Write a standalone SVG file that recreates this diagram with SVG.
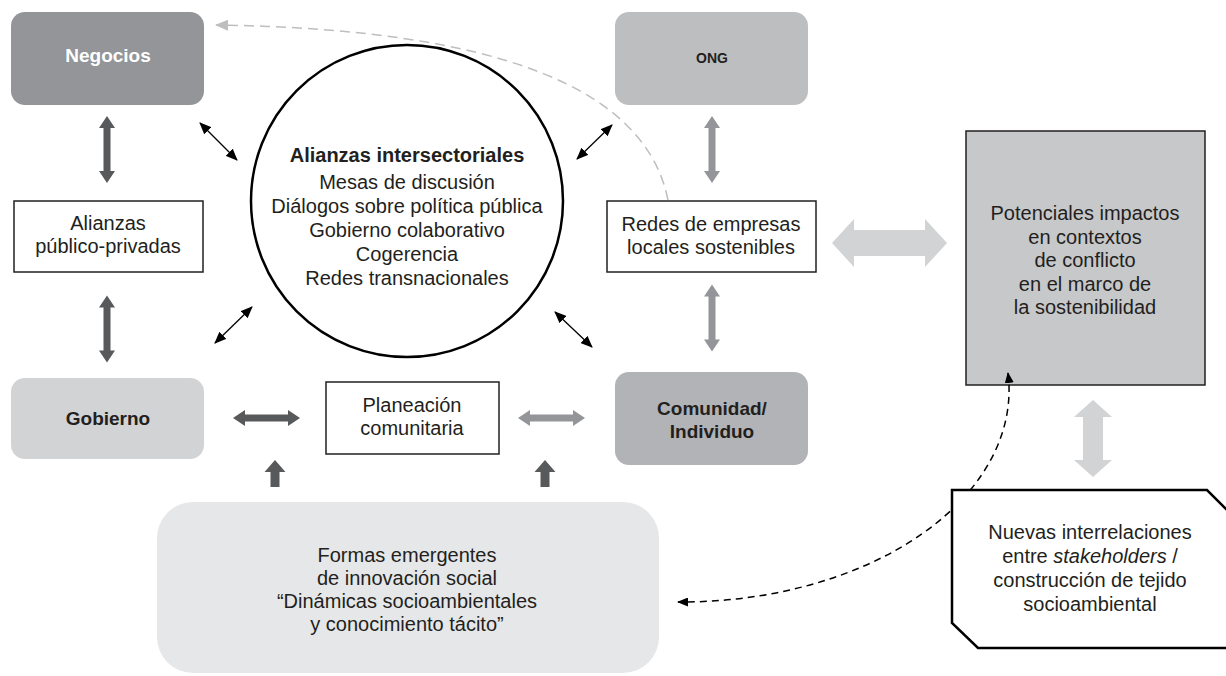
<svg xmlns="http://www.w3.org/2000/svg" width="1226" height="676" viewBox="0 0 1226 676">
<style>
text{font-family:"Liberation Sans",Arial,sans-serif;font-size:20px;fill:#231f20;text-anchor:middle}
.b{font-weight:bold;font-size:19px}
.w{fill:#ffffff}
.box{fill:#ffffff;stroke:#231f20;stroke-width:1.5}
.dk{fill:#58595b}
.md{fill:#939598}
.lt{fill:#d1d3d4}
.thin{stroke:#000;stroke-width:1.3;fill:none;marker-start:url(#ah);marker-end:url(#ah)}
</style>
<defs>
<marker id="ah" viewBox="0 0 12 10" refX="11" refY="5" markerWidth="12" markerHeight="10" markerUnits="userSpaceOnUse" orient="auto-start-reverse"><path d="M0,0 L12,5 L0,10 Z" fill="#000"/></marker>
<marker id="ahk" viewBox="0 0 11 9" refX="10" refY="4.5" markerWidth="11" markerHeight="9" markerUnits="userSpaceOnUse" orient="auto-start-reverse"><path d="M0,0 L11,4.5 L0,9 Z" fill="#000"/></marker>
<marker id="ahg" viewBox="0 0 13 11" refX="12" refY="5.5" markerWidth="13" markerHeight="11" markerUnits="userSpaceOnUse" orient="auto"><path d="M0,0 L13,5.5 L0,11 Z" fill="#bcbec0"/></marker>
<path id="dbl" d="M0,-33.5 L8,-21.5 L3.5,-21.5 L3.5,21.5 L8,21.5 L0,33.5 L-8,21.5 L-3.5,21.5 L-3.5,-21.5 L-8,-21.5 Z"/>
<path id="up" d="M0,-13.5 L10.5,-1.5 L4.5,-1.5 L4.5,13.5 L-4.5,13.5 L-4.5,-1.5 L-10.5,-1.5 Z"/>
</defs>

<g id="negocios"><rect x="11" y="12" width="193" height="93" rx="14" fill="#939598"/><text class="b w" x="108" y="62">Negocios</text></g>
<g id="ong"><rect x="615" y="12" width="193" height="93" rx="14" fill="#bcbec0"/><text class="b" style="font-size:14px" x="712" y="63">ONG</text></g>
<g id="alianzas-intersectoriales"><circle cx="407" cy="201" r="156" fill="#ffffff" stroke="#000" stroke-width="2.5"/>
<text class="b" style="font-size:20px" x="407" y="162">Alianzas intersectoriales</text>
<text x="407" y="189">Mesas de discusión</text>
<text x="407" y="213">Diálogos sobre política pública</text>
<text x="407" y="237">Gobierno colaborativo</text>
<text x="407" y="261">Cogerencia</text>
<text x="407" y="285">Redes transnacionales</text></g>
<g id="alianzas-pp"><rect class="box" x="14" y="201" width="189" height="71"/><text x="108" y="230">Alianzas</text><text x="108" y="253">público-privadas</text></g>
<g id="redes"><rect class="box" x="607" y="201" width="209" height="71"/><text x="711" y="231">Redes de empresas</text><text x="711" y="254">locales sostenibles</text></g>
<g id="gobierno"><rect x="11" y="378" width="193" height="81" rx="14" fill="#d1d3d4"/><text class="b" x="108" y="425">Gobierno</text></g>
<g id="planeacion"><rect class="box" x="326" y="382" width="173" height="72"/><text x="412" y="412">Planeación</text><text x="412" y="435">comunitaria</text></g>
<g id="comunidad"><rect x="615" y="372" width="193" height="93" rx="14" fill="#b1b3b6"/><text class="b" x="712" y="415">Comunidad/</text><text class="b" x="712" y="438">Individuo</text></g>
<g id="potenciales"><rect x="966" y="131" width="239" height="254" fill="#c7c8ca" stroke="#231f20" stroke-width="1.5"/>
<text x="1085" y="220">Potenciales impactos</text>
<text x="1085" y="244">en contextos</text>
<text x="1085" y="267">de conflicto</text>
<text x="1085" y="291">en el marco de</text>
<text x="1085" y="314">la sostenibilidad</text></g>
<g id="formas"><rect x="157" y="502" width="502" height="171" rx="36" fill="#e6e7e8"/>
<text x="407" y="562">Formas emergentes</text>
<text x="407" y="585">de innovación social</text>
<text x="407" y="608">“Dinámicas socioambientales</text>
<text x="407" y="631">y conocimiento tácito”</text></g>

<g id="connectors">
<use href="#dbl" class="dk" transform="translate(107,149.5)"/>
<use href="#dbl" class="dk" transform="translate(107,329)"/>
<use href="#dbl" class="dk" transform="translate(266.5,418) rotate(90)"/>
<use href="#dbl" class="md" transform="translate(551.5,418) rotate(90)"/>
<use href="#dbl" class="md" transform="translate(712,149.5)"/>
<use href="#dbl" class="md" transform="translate(712,318)"/>
<use href="#up" class="dk" transform="translate(275,473.5)"/>
<use href="#up" class="dk" transform="translate(545,473.5)"/>
<path class="lt" d="M832,243 L854,219 L854,230 L925,230 L925,219 L947,243 L925,267 L925,256 L854,256 L854,267 Z"/>
<path class="lt" d="M1093,400 L1112,417 L1103,417 L1103,460 L1112,460 L1093,477 L1074,460 L1083,460 L1083,417 L1074,417 Z"/>
<line class="thin" x1="200" y1="123" x2="237" y2="160"/>
<line class="thin" x1="577" y1="159" x2="612" y2="125"/>
<line class="thin" x1="215" y1="343" x2="252" y2="307"/>
<line class="thin" x1="555" y1="312" x2="592" y2="347"/>
<path d="M668,200 C640,60 420,28 216,25" fill="none" stroke="#bcbec0" stroke-width="1.5" stroke-dasharray="10 6" marker-end="url(#ahg)"/>
<path d="M1008,373 A328 212 0 0 1 678,602" fill="none" stroke="#000" stroke-width="1.5" stroke-dasharray="7 5" marker-start="url(#ahk)" marker-end="url(#ahk)"/>
</g>

<g id="nuevas"><polygon points="952,490 1207,490 1245,528 1245,648 978,648 952,623" fill="#ffffff" stroke="#000" stroke-width="2.5"/>
<text x="1090" y="539">Nuevas interrelaciones</text>
<text x="1090" y="563">entre <tspan font-style="italic">stakeholders</tspan> /</text>
<text x="1090" y="587">construcción de tejido</text>
<text x="1090" y="611">socioambiental</text></g>
</svg>
